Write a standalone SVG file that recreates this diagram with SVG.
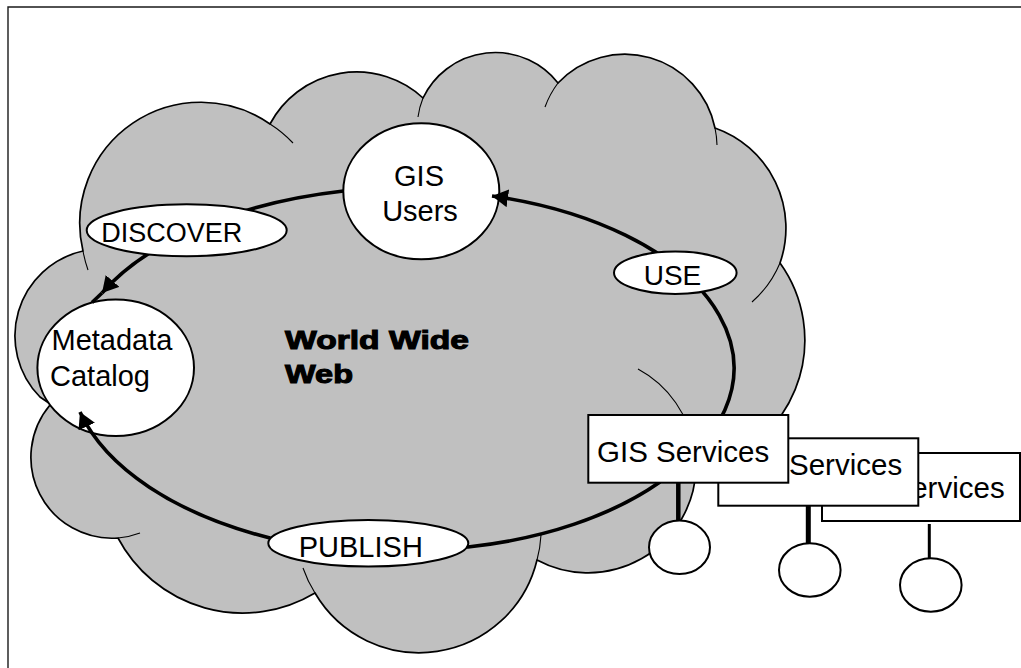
<svg xmlns="http://www.w3.org/2000/svg" width="1021" height="668" viewBox="0 0 1021 668">
  <defs>
    <style>
      .frame { fill: none; stroke: #1a1a1a; stroke-width: 1.4; }
      .cloud { fill: #c0c0c0; stroke: #000; stroke-width: 1.7; stroke-linejoin: round; }
      .seam { fill: none; stroke: #000; stroke-width: 1.1; }
      .link { fill: none; stroke: #000; stroke-width: 3.6; }
      .node { fill: #fff; stroke: #000; stroke-width: 2; }
      .stem { stroke: #000; }
      .lbl { font-family: "Liberation Sans", Arial, Helvetica, sans-serif; font-size: 29px; fill: #000; }
      .mid { text-anchor: middle; }
      .heavy { font-family: "Liberation Sans", Arial, Helvetica, sans-serif; font-size: 26.5px; font-weight: bold; fill: #000; stroke: #000; stroke-width: 1.1; }
    </style>
    <marker id="arrow" markerUnits="userSpaceOnUse" markerWidth="16" markerHeight="18" viewBox="0 0 16 18" refX="16" refY="9" orient="auto">
      <path d="M0,0 L16,9 L0,18 Z" fill="#000"/>
    </marker>
  </defs>

  <!-- page border (top and left edges) -->
  <path class="frame" d="M8,668 L8,7 L1021,7"/>

  <!-- cloud: the web -->
  <g id="cloud">
    <path class="cloud" d="M62,412 L40,397 A87 87 0 0 1 83,251 A121 121 0 0 1 270,124 A98 98 0 0 1 423,98 A80 80 0 0 1 558,83 A92 92 0 0 1 715,128 A106 106 0 0 1 780,263 A132 132 0 0 1 696,470 A108 108 0 0 1 537,560 A121 121 0 0 1 315,593 A141 141 0 0 1 118,538 A81 81 0 0 1 50,405 Z"/>
    <path class="seam" d="M83,251 A121 121 0 0 0 88,270"/>
    <path class="seam" d="M270,124 A121 121 0 0 1 293,143"/>
    <path class="seam" d="M423,98 A80 80 0 0 0 418,117"/>
    <path class="seam" d="M558,83 A92 92 0 0 0 545,107"/>
    <path class="seam" d="M715,128 A92 92 0 0 1 717,145"/>
    <path class="seam" d="M780,263 A106 106 0 0 1 752,302"/>
    <path class="seam" d="M638,369 A108 108 0 0 1 694,450"/>
    <path class="seam" d="M537,560 A121 121 0 0 0 541,535"/>
    <path class="seam" d="M315,593 A121 121 0 0 1 303,568"/>
    <path class="seam" d="M118,538 A81 81 0 0 0 140,533"/>
  </g>

  <g id="web-label">
    <text class="heavy" x="285" y="349" textLength="184" lengthAdjust="spacingAndGlyphs">World Wide</text>
    <text class="heavy" x="285" y="383" textLength="68" lengthAdjust="spacingAndGlyphs">Web</text>
  </g>

  <g id="gis-users">
    <ellipse class="node" cx="421.3" cy="191.3" rx="78" ry="68"/>
    <text class="lbl mid" x="419" y="186">GIS</text>
    <text class="lbl mid" x="420" y="221">Users</text>
  </g>

  <g id="metadata-catalog">
    <ellipse class="node" cx="115.7" cy="367.7" rx="78.3" ry="68.3"/>
    <text class="lbl" x="51.5" y="350">Metadata</text>
    <text class="lbl" x="50" y="385.7">Catalog</text>
  </g>

  <!-- cycle connectors, drawn over the end nodes so the arrowheads show -->
  <g id="connectors">
    <path id="discover-link" class="link" d="M343.5,191 A345 182 0 0 0 102,293" marker-end="url(#arrow)"/>
    <path class="link" d="M102,293 L92,302.5"/>
    <path id="publish-link" class="link" d="M660,482 A324 182 0 0 1 468,547 L270,538 A339 190 0 0 1 80,412" marker-end="url(#arrow)"/>
    <path id="use-link" class="link" d="M656,484 A324 178 0 0 0 492,196" marker-end="url(#arrow)"/>
  </g>

  <g id="discover">
    <ellipse class="node" cx="186.7" cy="230.3" rx="100" ry="26"/>
    <text class="lbl mid" x="171.7" y="241.7" style="font-size:27px">DISCOVER</text>
  </g>

  <g id="use">
    <ellipse class="node" cx="675.3" cy="272.8" rx="61.3" ry="21.2"/>
    <text class="lbl mid" x="672.5" y="285" style="font-size:28px">USE</text>
  </g>

  <g id="publish">
    <ellipse class="node" cx="368.3" cy="543.3" rx="100" ry="23.3"/>
    <text class="lbl mid" x="360.8" y="556.7">PUBLISH</text>
  </g>

  <!-- stacked service instances, back to front -->
  <g id="gis-services-3">
    <line class="stem" x1="929.3" y1="524" x2="929.3" y2="558.5" stroke-width="3"/>
    <ellipse class="node" cx="930.8" cy="585" rx="30.8" ry="26.7"/>
    <rect class="node" x="822" y="453" width="198" height="68"/>
    <text class="lbl" x="832.5" y="498.3" style="font-size:29.5px">GIS Services</text>
  </g>

  <g id="gis-services-2">
    <line class="stem" x1="808.3" y1="505" x2="808.3" y2="543.5" stroke-width="5"/>
    <ellipse class="node" cx="809.8" cy="570" rx="30.8" ry="26.7"/>
    <rect class="node" x="718.3" y="438.3" width="200" height="67.4"/>
    <text class="lbl" x="730" y="475" style="font-size:29.5px">GIS Services</text>
  </g>

  <g id="gis-services-1">
    <line class="stem" x1="678.3" y1="482" x2="678.3" y2="521" stroke-width="4.5"/>
    <ellipse class="node" cx="679.5" cy="547.3" rx="30.5" ry="26.7"/>
    <rect class="node" x="588.3" y="415" width="200" height="67.7"/>
    <text class="lbl" x="597" y="462.3" style="font-size:29.5px">GIS Services</text>
  </g>
</svg>
